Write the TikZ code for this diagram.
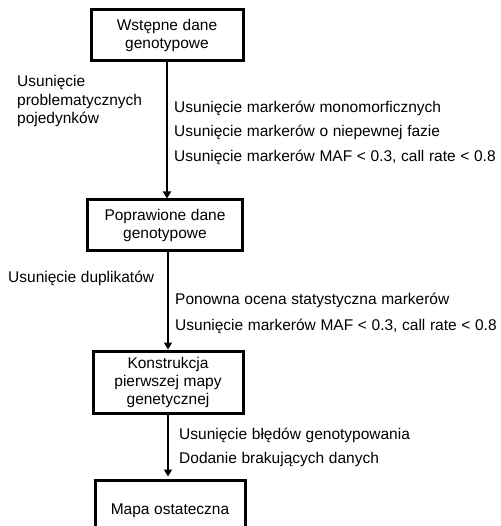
\documentclass[tikz,border=0pt]{standalone}
\usepackage{fontspec}
\setmainfont{Liberation Sans}
\usetikzlibrary{arrows.meta}
\begin{document}
\begin{tikzpicture}[x=1pt,y=-1pt,
  box/.style={draw,line width=3pt,rectangle,inner sep=0pt,align=center,
    font=\fontsize{15.5}{18}\selectfont,
    execute at begin node={\spaceskip=0.3em\relax}},
  lbl/.style={anchor=base west,inner sep=0pt,
    font=\fontsize{15.5}{18.5}\selectfont,
    execute at begin node={\spaceskip=0.3em\relax}},
  arr/.style={line width=2.5pt,-{Triangle[width=8pt,length=7pt]}}]
\useasboundingbox (0,0) rectangle (500,526);
\clip (0,0) rectangle (500,526);
\node[box,minimum width=152pt,minimum height=51pt] (b1) at (167,35.5) {Wstępne dane\\genotypowe};
\node[box,minimum width=155pt,minimum height=50pt] (b2) at (165,225) {Poprawione dane\\genotypowe};
\node[box,minimum width=150pt,minimum height=62pt] (b3) at (168,382) {Konstrukcja\\pierwszej mapy\\genetycznej};
\node[box,minimum width=150pt,minimum height=62pt] (b4) at (170,511) {Mapa ostateczna};
\draw[arr] (b1.south) -- (b1.south |- b2.north);
\draw[arr] (b2.south -| b3.north) -- (b3.north);
\draw[arr] (b3.south) -- ([yshift=2pt]b3.south |- b4.north);
\node[lbl,align=left] (t1) at (17,124) {Usunięcie\\problematycznych\\pojedynków};
\node[lbl] (t2) at (174,113) {Usunięcie markerów monomorficznych};
\node[lbl] (t3) at (174,137) {Usunięcie markerów o niepewnej fazie};
\node[lbl] (t4) at (174,162) {Usunięcie markerów MAF < 0.3, call rate < 0.8};
\node[lbl] (t5) at (8,282) {Usunięcie duplikatów};
\node[lbl] (t6) at (175,304) {Ponowna ocena statystyczna markerów};
\node[lbl] (t7) at (175,330) {Usunięcie markerów MAF < 0.3, call rate < 0.8};
\node[lbl] (t8) at (179,439) {Usunięcie błędów genotypowania};
\node[lbl] (t9) at (179,463) {Dodanie brakujących danych};
\end{tikzpicture}
\end{document}
